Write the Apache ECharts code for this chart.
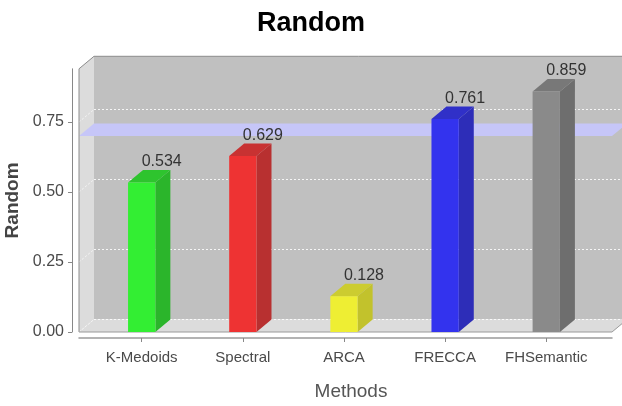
<!DOCTYPE html>
<html>
<head>
<meta charset="utf-8">
<title>Random</title>
<script src="https://cdn.jsdelivr.net/npm/echarts@6/dist/echarts.min.js"></script>
<style>
  html, body { margin: 0; padding: 0; background: #ffffff; }
  #chart { width: 622px; height: 406px; }
</style>
</head>
<body>
<div id="chart"></div>
<script>
// Clustering methods and their "Random" scores
const categories = ['K-Medoids', 'Spectral', 'ARCA', 'FRECCA', 'FHSemantic'];
const scores = [0.534, 0.629, 0.128, 0.761, 0.859];
const yTicks = [0, 0.25, 0.5, 0.75];
const thresholdLine = 0.70;

// Axis ranges (category index on x, score on y)
const xMin = -0.62, xMax = 4.65;
const yMax = 0.94;

// Bar faces: front, then the darker side/top shades
const frontColors = ['#33ee33', '#ee3333', '#eeee33', '#3333ee', '#8a8a8a'];
const sideColors  = ['#2bb52b', '#b83030', '#c2c22c', '#2d2db8', '#6e6e6e'];
const topColors   = ['#2ec42e', '#c83232', '#cccc30', '#3030c8', '#787878'];

// 3D depth offsets in pixels
const DX = 15, DY = 12.5;

const FONT = '"Liberation Sans", Arial, sans-serif';

const chart = echarts.init(document.getElementById('chart'), null, { renderer: 'canvas' });

// Walls, floor, grid lines and the threshold plane behind the bars
function renderBackdrop(params, api) {
  const fl = api.coord([xMin, 0]);
  const fr = api.coord([xMax, 0]);
  const tl = api.coord([xMin, yMax]);
  const children = [];
  // back wall
  children.push({
    type: 'rect',
    shape: { x: fl[0] + DX, y: tl[1] - DY, width: fr[0] - fl[0], height: fl[1] - tl[1] },
    style: { fill: '#c0c0c0' }
  });
  // left wall
  children.push({
    type: 'polygon',
    shape: { points: [[tl[0], tl[1]], [tl[0] + DX, tl[1] - DY], [fl[0] + DX, fl[1] - DY], [fl[0], fl[1]]] },
    style: { fill: '#dcdcdc' }
  });
  // floor
  children.push({
    type: 'polygon',
    shape: { points: [[fl[0], fl[1]], [fr[0], fr[1]], [fr[0] + DX, fr[1] - DY], [fl[0] + DX, fl[1] - DY]] },
    style: { fill: '#dcdcdc' }
  });
  // grid lines on back wall and left wall
  yTicks.forEach(function (v) {
    const p = api.coord([xMin, v]);
    children.push({
      type: 'line',
      shape: { x1: fl[0] + DX, y1: p[1] - DY, x2: fr[0] + DX, y2: p[1] - DY },
      style: { stroke: '#ffffff', lineWidth: 1, lineDash: [2, 2], opacity: 0.85 }
    });
    children.push({
      type: 'line',
      shape: { x1: p[0], y1: p[1], x2: p[0] + DX, y2: p[1] - DY },
      style: { stroke: '#ffffff', lineWidth: 1, lineDash: [2, 2], opacity: 0.7 }
    });
  });
  // threshold plane
  const ml = api.coord([xMin, thresholdLine]);
  const mr = api.coord([xMax, thresholdLine]);
  children.push({
    type: 'polygon',
    shape: { points: [[ml[0], ml[1]], [mr[0], mr[1]], [mr[0] + DX, mr[1] - DY], [ml[0] + DX, ml[1] - DY]] },
    style: { fill: '#c6c6f8' }
  });
  // outline of the box
  children.push({
    type: 'polyline',
    shape: { points: [[fl[0], fl[1]], [tl[0], tl[1]], [tl[0] + DX, tl[1] - DY], [fr[0] + DX + 20, tl[1] - DY]] },
    style: { stroke: '#8c8c8c', lineWidth: 1, fill: null }
  });
  children.push({
    type: 'polyline',
    shape: { points: [[fl[0], fl[1]], [fr[0], fr[1]], [fr[0] + DX, fr[1] - DY]] },
    style: { stroke: '#9a9a9a', lineWidth: 1, fill: null }
  });
  return { type: 'group', children: children };
}

// One 3D bar: front face, side face, top face and value label
function renderBar(params, api) {
  const i = api.value(0);
  const v = api.value(1);
  const base = api.coord([i, 0]);
  const top = api.coord([i, v]);
  const band = api.size([1, 0])[0];
  const half = band * 0.135;
  const xL = base[0] - half, xR = base[0] + half;
  const y0 = base[1], y1 = top[1];
  const idx = params.dataIndex;
  return {
    type: 'group',
    children: [
      {
        type: 'polygon',
        shape: { points: [[xR, y1], [xR + DX, y1 - DY], [xR + DX, y0 - DY], [xR, y0]] },
        style: { fill: sideColors[idx] }
      },
      {
        type: 'polygon',
        shape: { points: [[xL, y1], [xL + DX, y1 - DY], [xR + DX, y1 - DY], [xR, y1]] },
        style: { fill: topColors[idx] }
      },
      {
        type: 'rect',
        shape: { x: xL, y: y1, width: xR - xL, height: y0 - y1 },
        style: { fill: frontColors[idx] }
      },
      {
        type: 'text',
        x: base[0] + DX + 5,
        y: y1 - DY,
        style: {
          text: v.toFixed(3),
          fill: '#333333',
          font: '16px ' + FONT,
          align: 'center',
          verticalAlign: 'bottom'
        }
      }
    ]
  };
}

const option = {
  backgroundColor: '#ffffff',
  animation: false,
  title: {
    text: 'Random',
    left: 'center',
    top: 10,
    padding: 0,
    textStyle: {
      fontFamily: FONT,
      fontWeight: 'bold',
      fontSize: 27,
      color: '#000000'
    }
  },
  grid: {
    left: 79, right: 10, top: 332 - 280 * yMax, bottom: 74,
    containLabel: false,
    outerBoundsMode: 'none'
  },
  xAxis: {
    type: 'value',
    min: xMin,
    max: xMax,
    offset: 6,
    name: 'Methods',
    nameLocation: 'middle',
    nameGap: 44,
    nameTextStyle: {
      fontFamily: FONT,
      fontSize: 19,
      color: '#555555',
      padding: [0, 0, 0, 11]
    },
    axisLine: { show: true, onZero: false, lineStyle: { color: '#9a9a9a', width: 1.5 } },
    axisTick: { show: true, customValues: [0, 1, 2, 3, 4], length: 4, lineStyle: { color: '#888888' } },
    axisLabel: {
      show: true,
      customValues: [0, 1, 2, 3, 4],
      margin: 12,
      formatter: function (v) { return categories[Math.round(v)]; },
      fontFamily: FONT,
      fontSize: 15,
      color: '#4a4a4a'
    },
    splitLine: { show: false }
  },
  yAxis: {
    type: 'value',
    min: 0,
    max: yMax,
    offset: 7,
    name: 'Random',
    nameLocation: 'middle',
    nameGap: 45,
    nameTextStyle: {
      fontFamily: FONT,
      fontWeight: 'bold',
      fontSize: 19,
      color: '#444444'
    },
    axisLine: { show: true, onZero: false, lineStyle: { color: '#888888', width: 1 } },
    axisTick: { show: true, customValues: yTicks, length: 4, lineStyle: { color: '#888888' } },
    axisLabel: {
      show: true,
      customValues: yTicks,
      margin: 8,
      formatter: function (v) { return v.toFixed(2); },
      fontFamily: FONT,
      fontSize: 16,
      color: '#4a4a4a'
    },
    splitLine: { show: false }
  },
  series: [
    {
      name: 'backdrop',
      type: 'custom',
      z: 1,
      clip: false,
      silent: true,
      renderItem: renderBackdrop,
      data: [[0, 0]]
    },
    {
      name: 'Random',
      type: 'custom',
      z: 3,
      clip: false,
      renderItem: renderBar,
      encode: { x: 0, y: 1 },
      data: scores.map(function (v, i) { return [i, v]; })
    }
  ]
};

chart.setOption(option);
</script>
</body>
</html>
